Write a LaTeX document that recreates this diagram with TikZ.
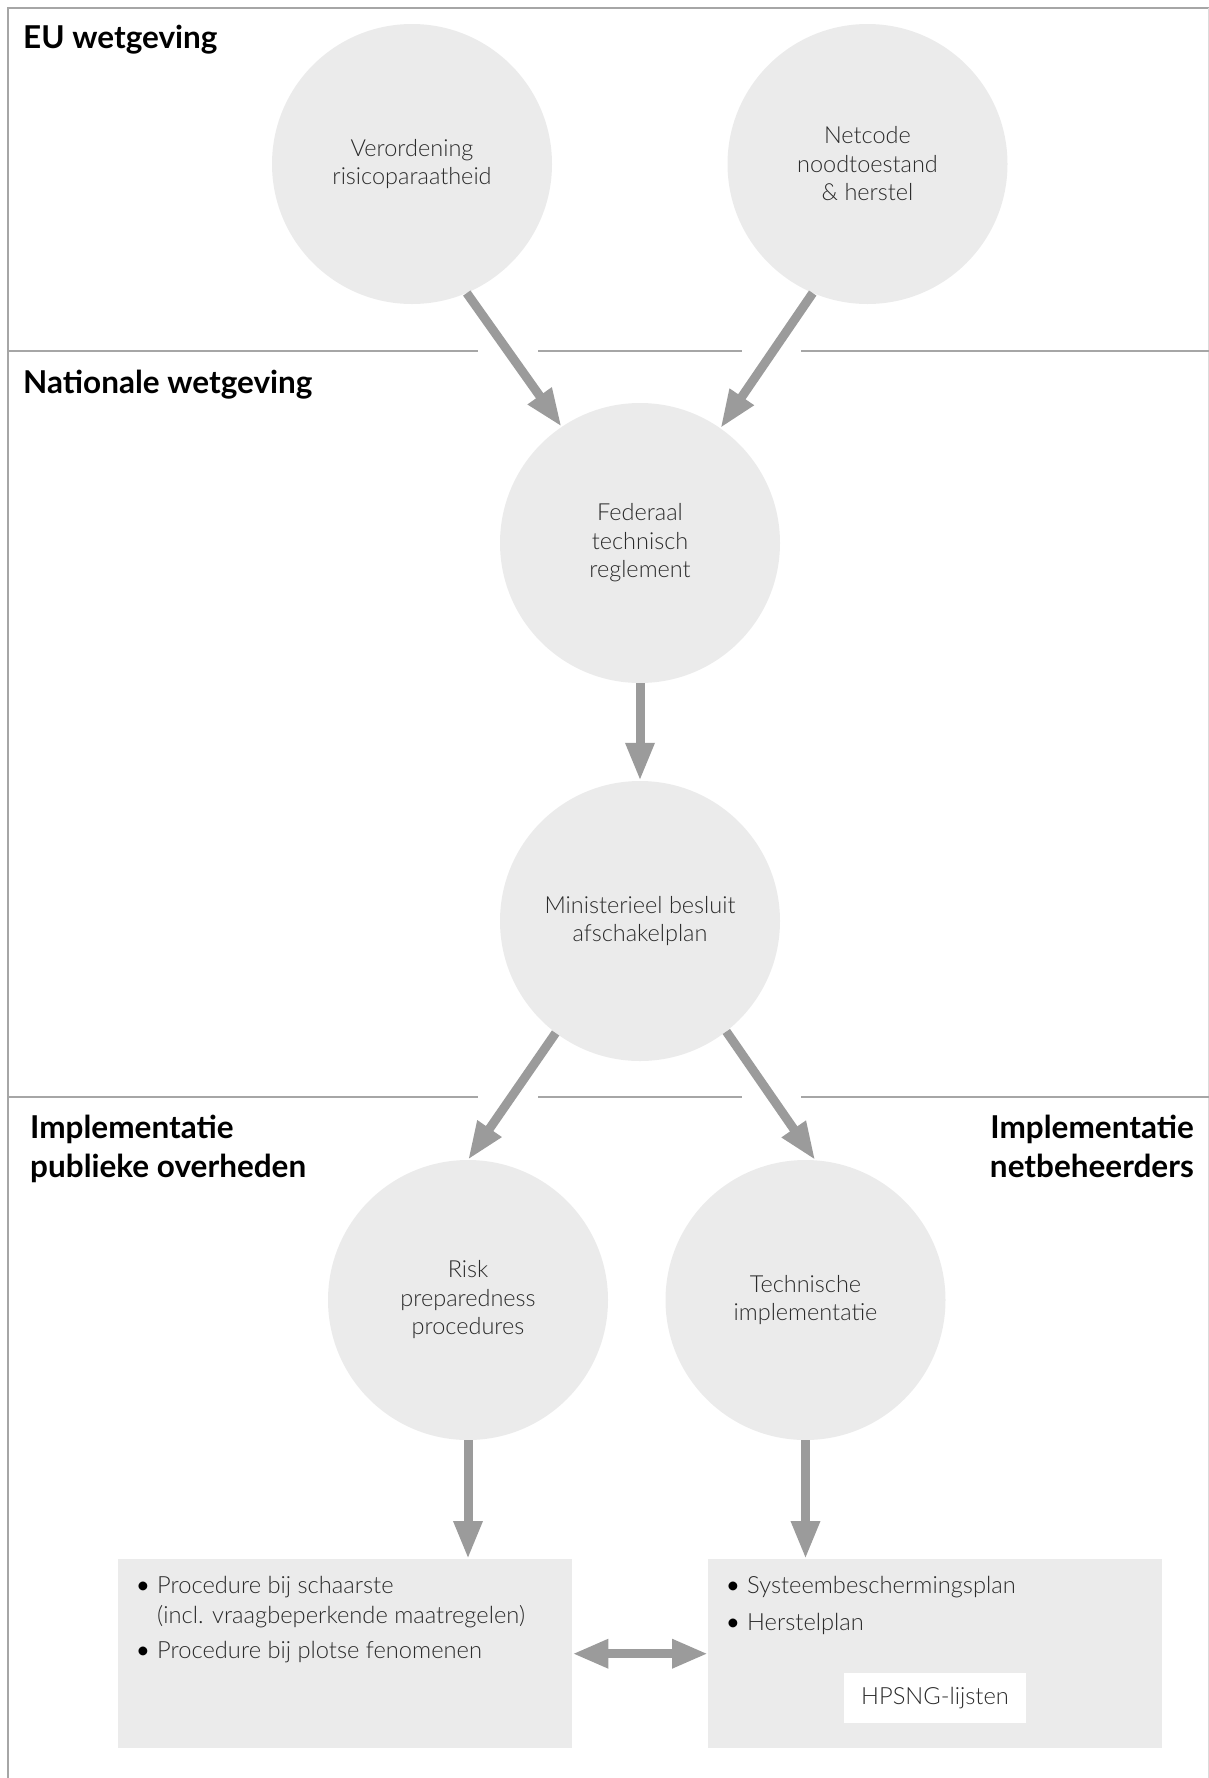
\documentclass[tikz,border=0pt]{standalone}
\usepackage{fontspec}
\setmainfont{Lato}
\newfontfamily\lightfont{Lato Light}
\usetikzlibrary{arrows.meta}
\definecolor{framegray}{HTML}{A6A6A6}
\definecolor{arrowgray}{HTML}{9B9B9B}
\definecolor{fillgray}{HTML}{EBEBEB}
\definecolor{inkgray}{HTML}{2A2A2A}
\begin{document}
\begin{tikzpicture}[x=1pt,y=-1pt,
  topic/.style={circle,fill=fillgray,minimum size=280pt,inner sep=0pt,align=center,
    text=inkgray,font=\lightfont\fontsize{23.5}{28.5}\selectfont},
  listbox/.style={rectangle,fill=fillgray,inner sep=0pt,anchor=north west},
  itemline/.style={anchor=base west,inner sep=0pt,text=inkgray,font=\lightfont\fontsize{23.7}{30}\selectfont},
  dot/.style={anchor=base west,inner sep=0pt,text=black,font=\fontsize{23.7}{30}\selectfont},
  heading/.style={inner sep=0pt,text=black,font=\bfseries\fontsize{31.5}{39}\selectfont},
  flow/.style={draw=arrowgray,line width=9pt,-{Triangle[length=38pt,width=27pt]}},
  twoway/.style={draw=arrowgray,line width=9pt,{Triangle[length=36pt,width=27pt]}-{Triangle[length=36pt,width=27pt]}},
  rule/.style={draw=framegray,line width=2.5pt},
]
\useasboundingbox (0,0) rectangle (1209,1778);

% frame and section dividers
\draw[rule] (8,1778) -- (8,8) -- (1209,8);
\draw[draw=framegray!40,line width=1pt] (1208,8) -- (1208,1778);
\draw[rule] (8,351) -- (478,351) (538,351) -- (742,351) (801,351) -- (1209,351);
\draw[rule] (8,1097) -- (478,1097) (538,1097) -- (742,1097) (801,1097) -- (1209,1097);

% section headings
\node[heading,anchor=base west] (hEU) at (23,48) {EU wetgeving};
\node[heading,anchor=base west] (hNat) at (23,393) {Nationale wetgeving};
\node[heading,anchor=base west] (hPub) at (30,1138) {Implementatie};
\node[heading,anchor=base west] (hPub2) at (30,1177) {publieke overheden};
\node[heading,anchor=base east] (hNet) at (1194,1138) {Implementatie};
\node[heading,anchor=base east] (hNet2) at (1194,1177) {netbeheerders};

% regulations and implementation topics
\node[topic] (c1) at (412,164) {Verordening\\risicoparaatheid};
\node[topic] (c2) at (867.5,164) {Netcode\\noodtoestand\\\& herstel};
\node[topic] (c3) at (640,543) {Federaal\\technisch\\reglement};
\node[topic] (c4) at (640,921) {Ministerieel besluit\\afschakelplan};
\node[topic] (c5) at (468,1300) {Risk\\preparedness\\procedures};
\node[topic] (c6) at (805.5,1300) {Technische\\implementatie};

% resulting documents
\node[listbox,minimum width=454pt,minimum height=189pt] (b1) at (118,1559) {};
\node[listbox,minimum width=454pt,minimum height=189pt] (b2) at (708,1559) {};

\node[dot] (d1) at (136,1593) {\textbullet};
\node[itemline] (t1) at (157,1593) {Procedure bij schaarste};
\node[itemline] (t1b) at (157,1623) {(incl. vraagbeperkende maatregelen)};
\node[dot] (d2) at (136,1658) {\textbullet};
\node[itemline] (t2) at (157,1658) {Procedure bij plotse fenomenen};

\node[dot] (d3) at (726,1593) {\textbullet};
\node[itemline] (t3) at (747,1593) {Systeembeschermingsplan};
\node[dot] (d4) at (726,1630) {\textbullet};
\node[itemline] (t4) at (747,1630) {Herstelplan};

\node[rectangle,fill=white,minimum width=182pt,minimum height=50pt,inner sep=0pt,
  text=inkgray,font=\lightfont\fontsize{23.7}{30}\selectfont] (hp) at (935,1698) {HPSNG-lijsten};

% connectors
\draw[flow] (c1.-67) -- (c3.124.5);
\draw[flow] (c2.-113) -- (c3.55.5);
\draw[flow] (c3.south) -- (c4.north);
\draw[flow] (c4.-127.6) -- (c5.90);
\draw[flow] (c4.-52.4) -- (c6.86.3);
\draw[flow] (c5.south) -- (c5.south |- b1.north);
\draw[flow] (c6.south) -- (c6.south |- b2.north);
\draw[twoway] (b1.east) -- (b2.west);
\end{tikzpicture}
\end{document}
